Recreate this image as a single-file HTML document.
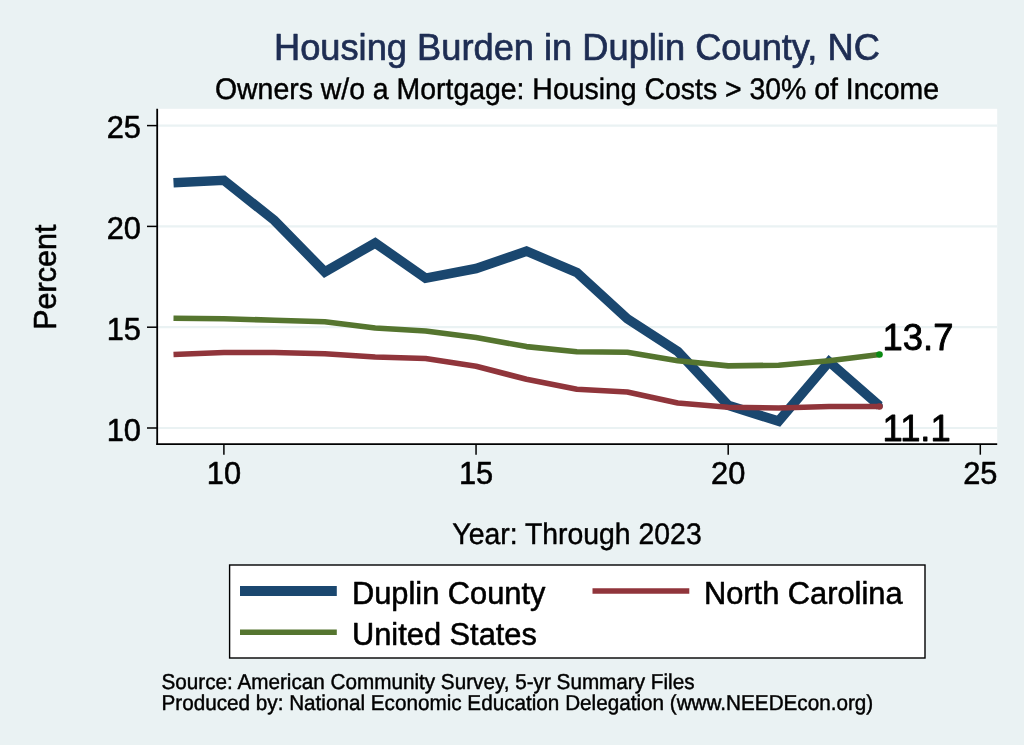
<!DOCTYPE html>
<html><head><meta charset="utf-8"><title>Housing Burden in Duplin County, NC</title>
<style>
html,body{margin:0;padding:0;background:#eaf2f3;}
svg{display:block;font-family:"Liberation Sans",sans-serif;}
text{stroke:#000;stroke-width:0.45px;stroke-linejoin:round;}
text.t{stroke:#1e2d53;stroke-width:0.7px;}
text.m{stroke-width:0.85px;}
text.g,g.g text{text-rendering:geometricPrecision;}
g.b text,text.b{stroke-width:0.56px;}
</style></head><body>
<svg width="1024" height="745" viewBox="0 0 1024 745">
<rect x="0" y="0" width="1024" height="745" fill="#eaf2f3"/>
<rect x="157.2" y="108.8" width="840" height="335.2" fill="#ffffff"/>
<g stroke="#eaf2f3" stroke-width="2.2">
<line x1="158" x2="997.2" y1="125.6" y2="125.6"/>
<line x1="158" x2="997.2" y1="226.4" y2="226.4"/>
<line x1="158" x2="997.2" y1="327.2" y2="327.2"/>
<line x1="158" x2="997.2" y1="428" y2="428"/>
</g>
<polyline fill="none" stroke="#1a476f" stroke-width="9.6" stroke-linejoin="miter" points="173.5,182.8 223.9,180.3 274.3,220.3 324.8,271.9 375.2,243.0 425.6,278.1 476.1,268.5 526.5,251.2 576.9,272.5 627.3,318.8 677.8,351.5 728.2,405.3 778.6,421.2 829.1,361.7 879.5,405.8"/>
<circle cx="879.5" cy="405.8" r="3.3" fill="#1a476f"/>
<polyline fill="none" stroke="#90353b" stroke-width="5.6" stroke-linejoin="round" points="173.5,354.5 223.9,352.5 274.3,352.5 324.8,353.8 375.2,357.0 425.6,358.5 476.1,366.2 526.5,379.3 576.9,389.2 627.3,392.0 677.8,403.0 728.2,407.3 778.6,408.0 829.1,406.5 879.5,406.5"/>
<polyline fill="none" stroke="#55752f" stroke-width="5.6" stroke-linejoin="round" points="173.5,318.2 223.9,318.8 274.3,320.2 324.8,321.8 375.2,328.0 425.6,331.0 476.1,337.5 526.5,346.6 576.9,351.7 627.3,352.3 677.8,360.8 728.2,365.9 778.6,365.2 829.1,360.8 879.5,354.5"/>
<circle cx="879.5" cy="406.5" r="3.3" fill="#90353b"/>
<circle cx="879.5" cy="354.5" r="3.3" fill="#0b8a12"/>
<g stroke="#000" stroke-width="1.8" fill="none">
<line x1="157.2" x2="157.2" y1="108.8" y2="444.9"/>
<line x1="156.4" x2="997.2" y1="444.1" y2="444.1"/>
</g>
<g stroke="#000" stroke-width="1.5">
<line x1="147" x2="157" y1="125.6" y2="125.6"/>
<line x1="147" x2="157" y1="226.4" y2="226.4"/>
<line x1="147" x2="157" y1="327.2" y2="327.2"/>
<line x1="147" x2="157" y1="428" y2="428"/>
<line x1="223.9" x2="223.9" y1="444" y2="454.7"/>
<line x1="476.05" x2="476.05" y1="444" y2="454.7"/>
<line x1="728.2" x2="728.2" y1="444" y2="454.7"/>
<line x1="980.3" x2="980.3" y1="444" y2="454.7"/>
</g>
<g class="b" font-size="30.8" fill="#000" text-anchor="end">
<text x="141" y="138.4">25</text>
<text x="141" y="239.2">20</text>
<text x="141" y="340.0">15</text>
<text x="141" y="440.9">10</text>
</g>
<g class="b" font-size="30.8" fill="#000" text-anchor="middle">
<text x="223.9" y="484.0">10</text>
<text x="476.05" y="484.0">15</text>
<text x="728.2" y="484.0">20</text>
<text x="980.3" y="484.0">25</text>
</g>
<text class="t" x="576.9" y="60" font-size="36.25" fill="#1e2d53" text-anchor="middle">Housing Burden in Duplin County, NC</text>
<text class="g" transform="translate(577,99.15) scale(0.957,1)" font-size="29.7" fill="#000" text-anchor="middle">Owners w/o a Mortgage: Housing Costs &gt; 30% of Income</text>
<text class="b" transform="translate(56.2,277.2) rotate(-90)" font-size="30.5" fill="#000" text-anchor="middle">Percent</text>
<text class="g" transform="translate(577.0,543.65) scale(0.956,1)" font-size="29.7" fill="#000" text-anchor="middle">Year: Through 2023</text>
<text class="m" x="882.6" y="349.6" font-size="36.4" fill="#000">13.7</text>
<text class="m" x="882.6" y="441.3" font-size="36.4" fill="#000">11.1</text>
<rect x="229.6" y="565" width="695.4" height="93" fill="#fff" stroke="#000" stroke-width="1.4"/>
<line x1="240" x2="336.8" y1="591" y2="591" stroke="#1a476f" stroke-width="10"/>
<line x1="592.5" x2="689.3" y1="591" y2="591" stroke="#90353b" stroke-width="5.6"/>
<line x1="240" x2="336.8" y1="632.3" y2="632.3" stroke="#55752f" stroke-width="5.6"/>
<g class="b" font-size="30.8" fill="#000">
<text x="352" y="604">Duplin County</text>
<text x="704" y="604">North Carolina</text>
<text x="352" y="645.4">United States</text>
</g>
<g class="g" font-size="21.6" fill="#000">
<text transform="translate(161.5,689.1) scale(0.958,1)">Source: American Community Survey, 5-yr Summary Files</text>
<text transform="translate(161.5,709.5) scale(0.958,1)">Produced by: National Economic Education Delegation (www.NEEDEcon.org)</text>
</g>
</svg>
</body></html>
